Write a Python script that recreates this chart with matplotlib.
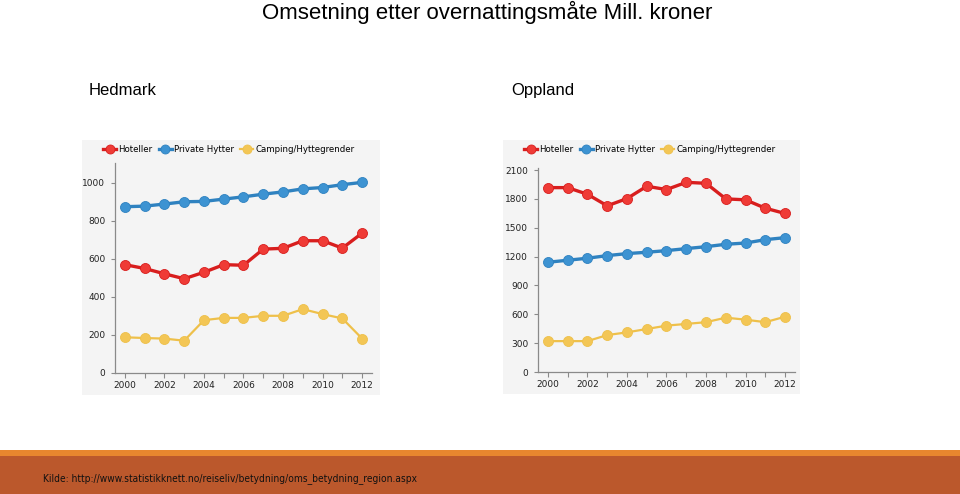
import matplotlib
matplotlib.use("Agg")
import matplotlib.pyplot as plt
from matplotlib.patches import Rectangle

years = list(range(2000, 2013))

hedmark_hoteller = [570, 550, 522, 496, 530, 570, 567, 652, 656, 696, 696, 657, 736]
hedmark_hytter = [875, 878, 889, 901, 903, 915, 927, 941, 953, 969, 976, 991, 1003]
hedmark_camping = [188, 184, 181, 170, 278, 290, 290, 301, 301, 336, 310, 287, 181]

oppland_hoteller = [1917, 1917, 1848, 1728, 1803, 1931, 1897, 1972, 1962, 1800, 1790, 1703, 1648]
oppland_hytter = [1141, 1162, 1183, 1210, 1231, 1245, 1262, 1283, 1303, 1328, 1341, 1376, 1397]
oppland_camping = [321, 321, 321, 384, 412, 447, 482, 500, 518, 565, 544, 518, 575]

series_names = ["Hoteller", "Private Hytter", "Camping/Hyttegrender"]
line_colors = ["#d81e1e", "#2f82c0", "#eec04a"]
marker_colors = ["#ef3b36", "#3d93d2", "#f3c655"]
line_widths = [2.4, 2.4, 1.6]

W, H = 960, 494


def box(x0, y0, x1, y1):
    # pixel box (top-left origin) -> figure fraction
    return [x0 / W, 1 - y1 / H, (x1 - x0) / W, (y1 - y0) / H]


def draw_panel(fig, panel_px, axes_px, legend_px, data, ylim, yticks):
    bg = fig.add_axes(box(*panel_px))
    bg.set_facecolor("#f4f4f4")
    bg.set_xticks([])
    bg.set_yticks([])
    for s in bg.spines.values():
        s.set_visible(False)
    bg.set_zorder(1)

    ax = fig.add_axes(box(*axes_px))
    ax.set_zorder(2)
    ax.set_facecolor("none")
    handles = []
    for vals, name, lc, mc, lw in zip(data, series_names, line_colors, marker_colors, line_widths):
        h, = ax.plot(years, vals, color=lc, lw=lw, marker="o", markersize=7.2,
                     markerfacecolor=mc, markeredgecolor=lc, markeredgewidth=0.6,
                     label=name, clip_on=False)
        handles.append(h)
    ax.set_xlim(1999.5, 2012.5)
    ax.set_ylim(*ylim)
    ax.set_yticks(yticks)
    ax.set_xticks(years)
    ax.set_xticklabels([str(y) if y % 2 == 0 else "" for y in years])
    for s in ["top", "right"]:
        ax.spines[s].set_visible(False)
    for s in ["left", "bottom"]:
        ax.spines[s].set_color("#8a8a8a")
        ax.spines[s].set_linewidth(0.9)
    ax.tick_params(axis="x", direction="out", length=3.5, color="#8a8a8a",
                   labelsize=6.5, labelcolor="#222222", pad=2)
    ax.tick_params(axis="y", direction="out", length=3, color="#8a8a8a",
                   labelsize=6.5, labelcolor="#222222", pad=4)
    fig.legend(handles=handles, loc="center",
               bbox_to_anchor=(legend_px[0] / W, 1 - legend_px[1] / H),
               ncol=3, frameon=False, fontsize=6.2, handlelength=1.5,
               columnspacing=0.7, handletextpad=0.3, markerscale=0.9,
               borderpad=0, borderaxespad=0)
    return ax


fig = plt.figure(figsize=(9.6, 4.94), dpi=100)
fig.patch.set_facecolor("white")

fig.text(487 / W, 1 - 12 / H, "Omsetning etter overnattingsmåte Mill. kroner",
         ha="center", va="center", fontsize=16, family="Liberation Sans", color="#000000")
fig.text(89 / W, 1 - 90 / H, "Hedmark", ha="left", va="center", fontsize=12,
         family="Liberation Sans")
fig.text(511 / W, 1 - 90 / H, "Oppland", ha="left", va="center", fontsize=12,
         family="Liberation Sans")

draw_panel(fig, (82, 140, 380, 395), (115, 163, 372, 373), (229, 150),
           [hedmark_hoteller, hedmark_hytter, hedmark_camping],
           (0, 1105), [0, 200, 400, 600, 800, 1000])
draw_panel(fig, (503, 140, 800, 394), (538, 168, 795, 372), (650, 150),
           [oppland_hoteller, oppland_hytter, oppland_camping],
           (0, 2121), [0, 300, 600, 900, 1200, 1500, 1800, 2100])

# bottom bar
fig.patches.append(Rectangle((0, 1 - 456 / H), 1, 6 / H, transform=fig.transFigure,
                             facecolor="#e8862e", edgecolor="none", zorder=0))
fig.patches.append(Rectangle((0, 0), 1, 1 - 456 / H, transform=fig.transFigure,
                             facecolor="#bb582c", edgecolor="none", zorder=0))
fig.text(43 / W, 1 - 479 / H, "Kilde: http://www.statistikknett.no/reiseliv/betydning/oms_betydning_region.aspx",
         ha="left", va="center", fontsize=7.3, color="#111111",
         family="Liberation Sans Narrow", stretch="condensed")

fig.savefig("out.png", dpi=100)
